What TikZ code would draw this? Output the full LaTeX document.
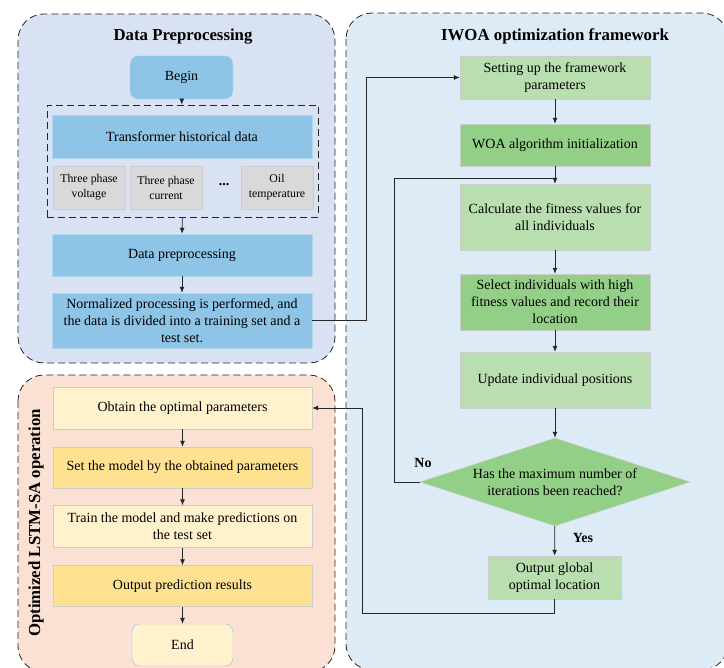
\documentclass[tikz,border=0pt]{standalone}
\usepackage{fontspec}
\setmainfont{Liberation Serif}
\usetikzlibrary{arrows.meta,shapes.geometric}
\definecolor{panelblue}{RGB}{217,226,243}
\definecolor{panelsky}{RGB}{221,235,247}
\definecolor{panelpeach}{RGB}{251,225,211}
\definecolor{boxblue}{RGB}{142,196,230}
\definecolor{boxgray}{RGB}{217,217,217}
\definecolor{lightgreen}{RGB}{185,223,176}
\definecolor{darkgreen}{RGB}{147,207,134}
\definecolor{lightyellow}{RGB}{255,242,204}
\definecolor{darkyellow}{RGB}{255,226,145}
\begin{document}
\begin{tikzpicture}[x=1pt,y=-1pt,>={Latex[length=6pt,width=5pt]},every node/.style={font=\fontsize{14}{17}\selectfont},panel/.style={draw=black!85,line width=0.8pt,dash pattern=on 7pt off 4pt,rounded corners=26pt},title/.style={font=\fontsize{16.8}{19}\selectfont\bfseries},box/.style={draw=black!20,align=center,inner sep=2pt},blue/.style={box,fill=boxblue,draw=boxblue!70!white,minimum width=260},gray/.style={box,fill=boxgray,minimum width=72,minimum height=43,font=\fontsize{11.8}{15}\selectfont},lgreen/.style={box,fill=lightgreen,minimum width=190},dgreen/.style={box,fill=darkgreen,minimum width=190},lyellow/.style={box,fill=lightyellow,minimum width=259,minimum height=42},dyellow/.style={box,fill=darkyellow,minimum width=259,minimum height=41},flow/.style={->,thick,black!85}]
\useasboundingbox (0,0) rectangle (724,668);
\clip (0,0) rectangle (724,668);
% panels
\draw[panel,fill=panelblue] (18,14) rectangle (335,363);
\draw[panel,fill=panelsky] (346,13) rectangle (728,670);
\draw[panel,fill=panelpeach] (18,375) rectangle (335,672);
\node[title] (tdata) at (183,37) {Data Preprocessing};
\node[title] (tiwoa) at (555,36) {IWOA optimization framework};
\node[title,rotate=90] (tlstm) at (36,523) {Optimized LSTM-SA operation};
% data preprocessing
\node[box,fill=boxblue,draw=boxblue!70!white,rounded corners=8pt,minimum width=103,minimum height=43] (begin) at (181.5,77.5) {Begin};
\node[draw=black!85,dash pattern=on 7pt off 4pt,thick,minimum width=271,minimum height=112,inner sep=0] (grp) at (182.5,161) {};
\node[blue,minimum height=43] (hist) at (182,136.5) {Transformer historical data};
\node[gray] (volt) at (89,187.5) {Three phase\\voltage};
\node[gray] (curr) at (166,187.5) {Three phase\\current};
\node[font=\fontsize{14}{17}\selectfont\bfseries] (dots) at (224,185) {...};
\node[gray] (oil) at (277,187.5) {Oil\\temperature};
\node[blue,minimum height=42] (dprep) at (182,255) {Data preprocessing};
\node[blue,minimum height=55] (norm) at (182,320.5) {Normalized processing is performed, and\\the data is divided into a training set and a\\test set.};
\draw[flow] (begin) -- (grp);
\draw[flow] (grp) -- (dprep);
\draw[flow] (dprep) -- (norm);
% IWOA
\node[lgreen,minimum height=43] (setup) at (555,77.5) {Setting up the framework\\parameters};
\node[dgreen,minimum height=42] (woa) at (555,145) {WOA algorithm initialization};
\node[lgreen,minimum height=66] (calc) at (555,217) {Calculate the fitness values for\\all individuals};
\node[dgreen,minimum height=56] (sel) at (555,302) {Select individuals with high\\fitness values and record their\\location};
\node[lgreen,minimum height=56] (upd) at (555,380) {Update individual positions};
\node[diamond,box,fill=darkgreen,aspect=3.07,minimum width=270,minimum height=88,inner sep=0] (dec) at (555,482) {Has the maximum number of\\iterations been reached?};
\node[box,fill=lightgreen,minimum width=133,minimum height=43] (gout) at (554.5,577.5) {Output global\\optimal location};
\coordinate (nojoin) at (555,178);
\draw[flow] (norm.east) -- ++(54,0) |- (setup.west);
\draw[flow] (setup) -- (woa);
\draw[flow] (woa) -- (calc);
\draw[flow] (calc) -- (sel);
\draw[flow] (sel) -- (upd);
\draw[flow] (upd) -- (dec);
\draw[flow] (dec) -- (gout);
\draw[thick,black!85] (dec.west) -- ++(-25,0) |- (nojoin);
\node[font=\fontsize{14}{17}\selectfont\bfseries] (no) at (423,463) {No};
\node[font=\fontsize{14}{17}\selectfont\bfseries] (yes) at (583,538) {Yes};
% LSTM-SA
\node[lyellow] (obt) at (182.5,408) {Obtain the optimal parameters};
\node[dyellow] (setm) at (182.5,467.5) {Set the model by the obtained parameters};
\node[lyellow] (train) at (182.5,526.5) {Train the model and make predictions on\\the test set};
\node[dyellow] (outp) at (182.5,586) {Output prediction results};
\node[box,fill=lightyellow,draw=boxblue,rounded corners=8pt,minimum width=101,minimum height=42] (end) at (182.5,645) {End};
\draw[flow] (gout.south) -- ++(0,14) -- ++(-192,0) |- (obt.east);
\draw[flow] (obt) -- (setm);
\draw[flow] (setm) -- (train);
\draw[flow] (train) -- (outp);
\draw[flow] (outp) -- (end);
\end{tikzpicture}
\end{document}
